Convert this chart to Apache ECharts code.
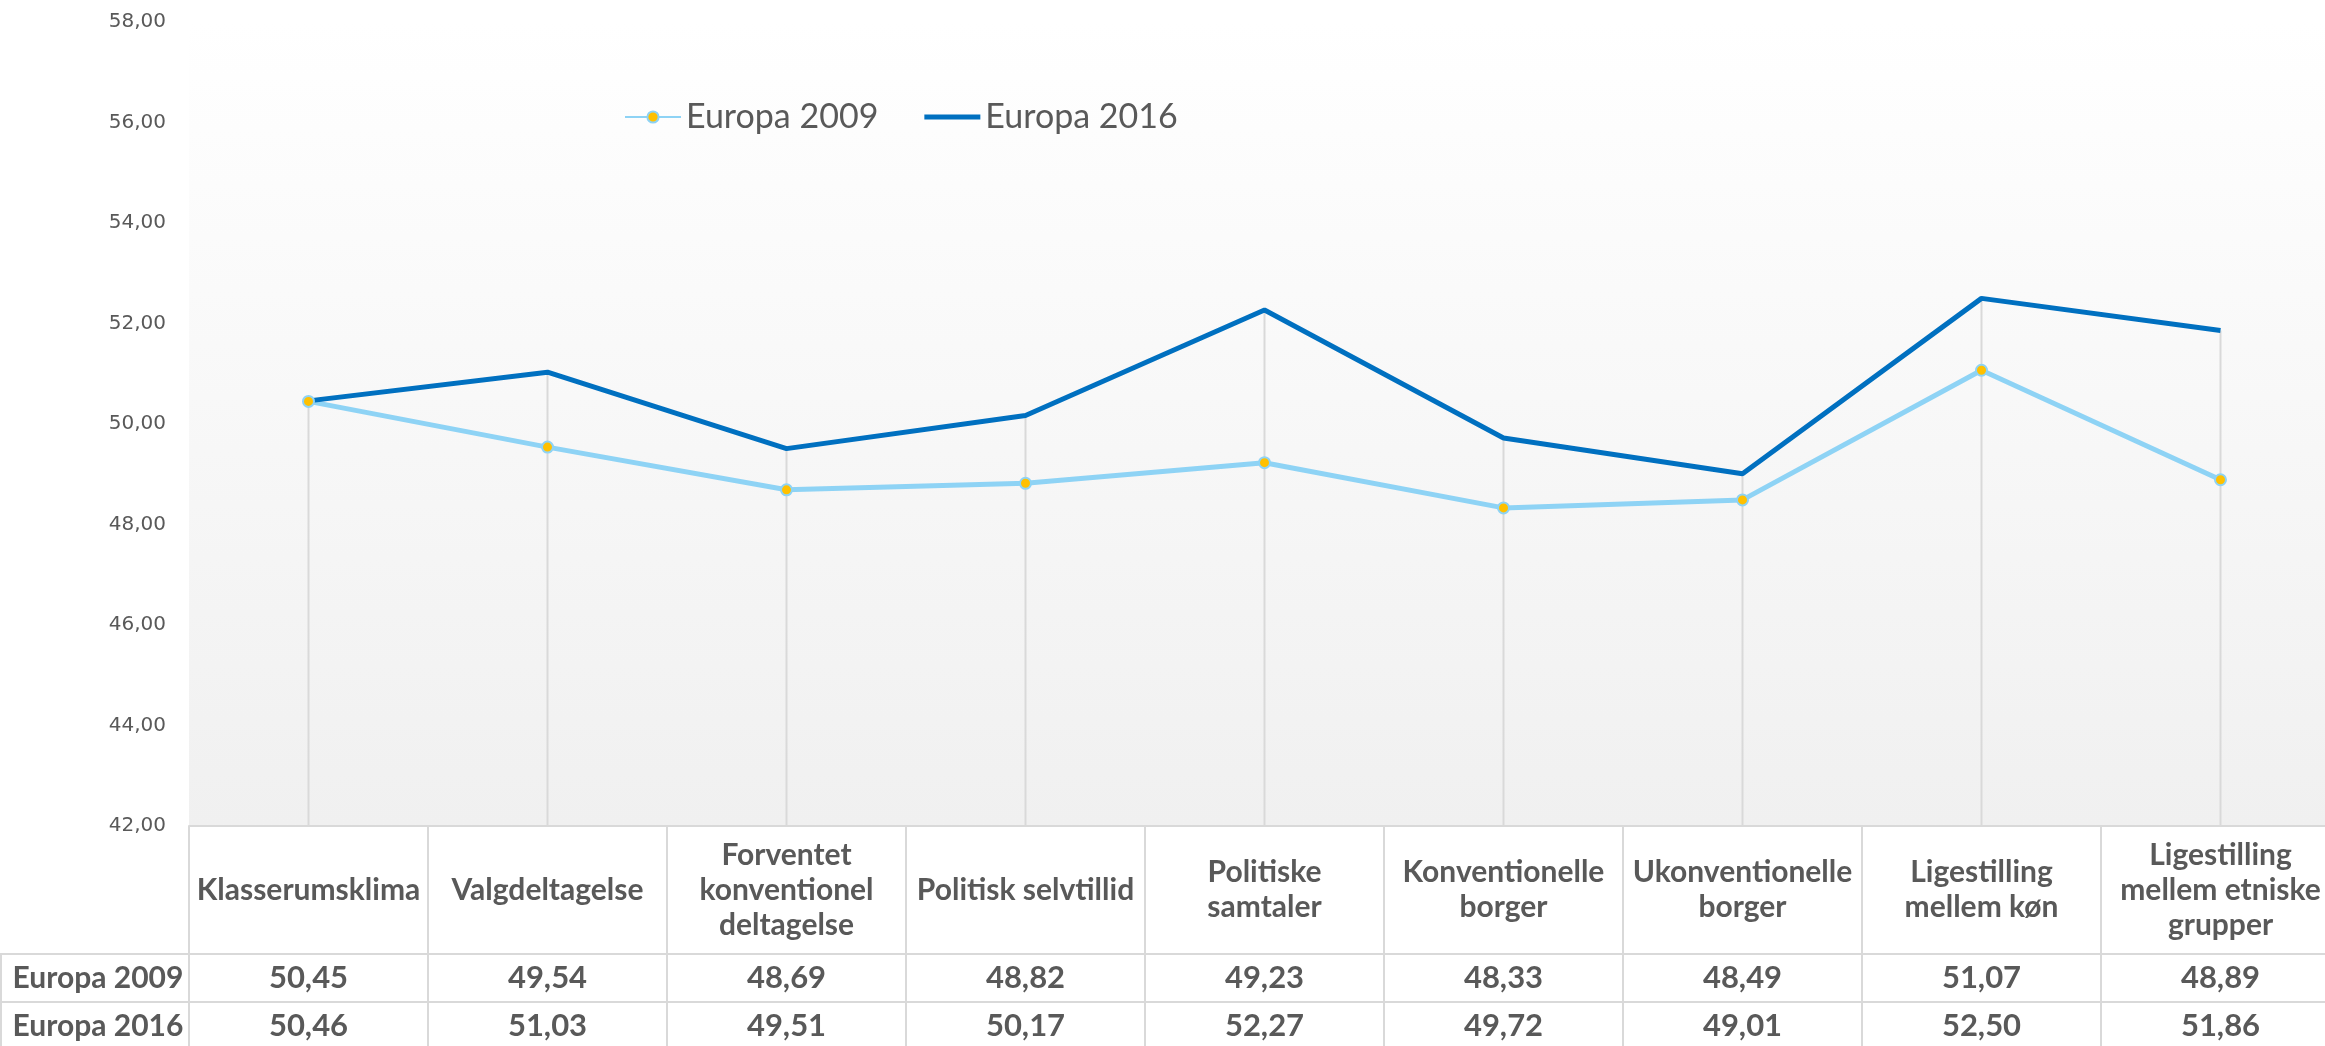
<!DOCTYPE html>
<html>
<head>
<meta charset="utf-8">
<script src="https://cdn.jsdelivr.net/npm/echarts@6/dist/echarts.min.js"></script>
<style>
  html, body { margin: 0; padding: 0; background: #fff; }
  #chart { width: 2325px; height: 1046px; }
</style>
</head>
<body>
<div id="chart"></div>
<script>
// data
const categories = [
  'Klasserumsklima',
  'Valgdeltagelse',
  'Forventet\nkonventionel\ndeltagelse',
  'Politisk selvtillid',
  'Politiske\nsamtaler',
  'Konventionelle\nborger',
  'Ukonventionelle\nborger',
  'Ligestilling\nmellem køn',
  'Ligestilling\nmellem etniske\ngrupper'
];
const europa2009 = [50.45, 49.54, 48.69, 48.82, 49.23, 48.33, 48.49, 51.07, 48.89];
const europa2016 = [50.46, 51.03, 49.51, 50.17, 52.27, 49.72, 49.01, 52.50, 51.86];
const seriesNames = ['Europa 2009', 'Europa 2016'];
const yMin = 42, yMax = 58, yStep = 2;

// drop lines go from the higher of the two points down to the axis
const dropLines = europa2009.map((v, i) => Math.max(v, europa2016[i]));

const fmt = v => v.toFixed(2).replace('.', ',');
const grey = '#595959';
const border = '#d9d9d9';
const tableFont = 'Lato';

const chart = echarts.init(document.getElementById('chart'));

function valueAxis(values, offset) {
  return {
    type: 'category',
    data: categories,
    position: 'bottom',
    offset: offset,
    boundaryGap: true,
    axisLine: { show: true, lineStyle: { color: border, width: 2 } },
    axisTick: { show: true, interval: 0, length: 48, lineStyle: { color: border, width: 2 } },
    axisLabel: {
      interval: 0,
      margin: 24,
      verticalAlign: 'middle',
      fontFamily: tableFont,
      fontWeight: 'bold',
      fontSize: 31,
      color: grey,
      formatter: (val, idx) => fmt(values[idx])
    }
  };
}

const option = {
  animation: false,
  backgroundColor: '#ffffff',
  grid: {
    left: 189,
    top: 22,
    width: 2151,
    height: 804,
    outerBoundsMode: 'none',
    show: true,
    borderWidth: 0,
    backgroundColor: new echarts.graphic.LinearGradient(0, 0, 0, 1, [
      { offset: 0, color: '#ffffff' },
      { offset: 1, color: '#f0f0f0' }
    ])
  },
  legend: {
    left: 619,
    top: 95,
    itemWidth: 56,
    itemHeight: 14,
    itemGap: 46,
    data: [
      { name: seriesNames[0] },
      { name: seriesNames[1], icon: 'path://M0,0L56,0L56,5L0,5Z' }
    ],
    textStyle: { fontFamily: tableFont, fontSize: 34, color: grey }
  },
  xAxis: [
    {
      type: 'category',
      data: categories,
      position: 'bottom',
      boundaryGap: true,
      axisLine: { show: true, lineStyle: { color: border, width: 2 } },
      axisTick: { show: true, interval: 0, length: 128, lineStyle: { color: border, width: 2 } },
      axisLabel: {
        interval: 0,
        margin: 64,
        verticalAlign: 'middle',
        align: 'center',
        fontFamily: tableFont,
        fontWeight: 'bold',
        fontSize: 30,
        lineHeight: 35,
        color: grey
      }
    },
    valueAxis(europa2009, 128),
    valueAxis(europa2016, 176)
  ],
  yAxis: {
    type: 'value',
    min: yMin,
    max: yMax,
    interval: yStep,
    axisLine: { show: false },
    axisTick: { show: false },
    splitLine: { show: false },
    axisLabel: {
      margin: 23,
      fontFamily: 'DejaVu Sans',
      fontSize: 20,
      color: grey,
      formatter: v => fmt(v)
    }
  },
  series: [
    {
      type: 'bar',
      data: dropLines,
      barWidth: 2,
      itemStyle: { color: border },
      silent: true,
      z: 1
    },
    {
      name: seriesNames[0],
      type: 'line',
      data: europa2009,
      symbol: 'circle',
      symbolSize: 11,
      lineStyle: { color: '#8ed3f5', width: 5 },
      itemStyle: { color: '#ffc000', borderColor: '#8ed3f5', borderWidth: 2 },
      emphasis: { disabled: true },
      z: 3
    },
    {
      name: seriesNames[1],
      type: 'line',
      data: europa2016,
      symbol: 'none',
      lineStyle: { color: '#0070c0', width: 5 },
      itemStyle: { color: '#0070c0' },
      emphasis: { disabled: true },
      z: 3
    }
  ],
  graphic: [
    // left part of the data table (row headers)
    { type: 'line', shape: { x1: 0, y1: 954, x2: 189, y2: 954 }, style: { stroke: border, lineWidth: 2 } },
    { type: 'line', shape: { x1: 0, y1: 1002, x2: 189, y2: 1002 }, style: { stroke: border, lineWidth: 2 } },
    { type: 'line', shape: { x1: 1, y1: 954, x2: 1, y2: 1046 }, style: { stroke: border, lineWidth: 2 } },
    {
      type: 'text', x: 98, y: 978,
      style: { text: seriesNames[0], fill: grey, font: 'bold 30px ' + tableFont, align: 'center', verticalAlign: 'middle' }
    },
    {
      type: 'text', x: 98, y: 1026,
      style: { text: seriesNames[1], fill: grey, font: 'bold 30px ' + tableFont, align: 'center', verticalAlign: 'middle' }
    }
  ]
};

chart.setOption(option);
</script>
</body>
</html>
